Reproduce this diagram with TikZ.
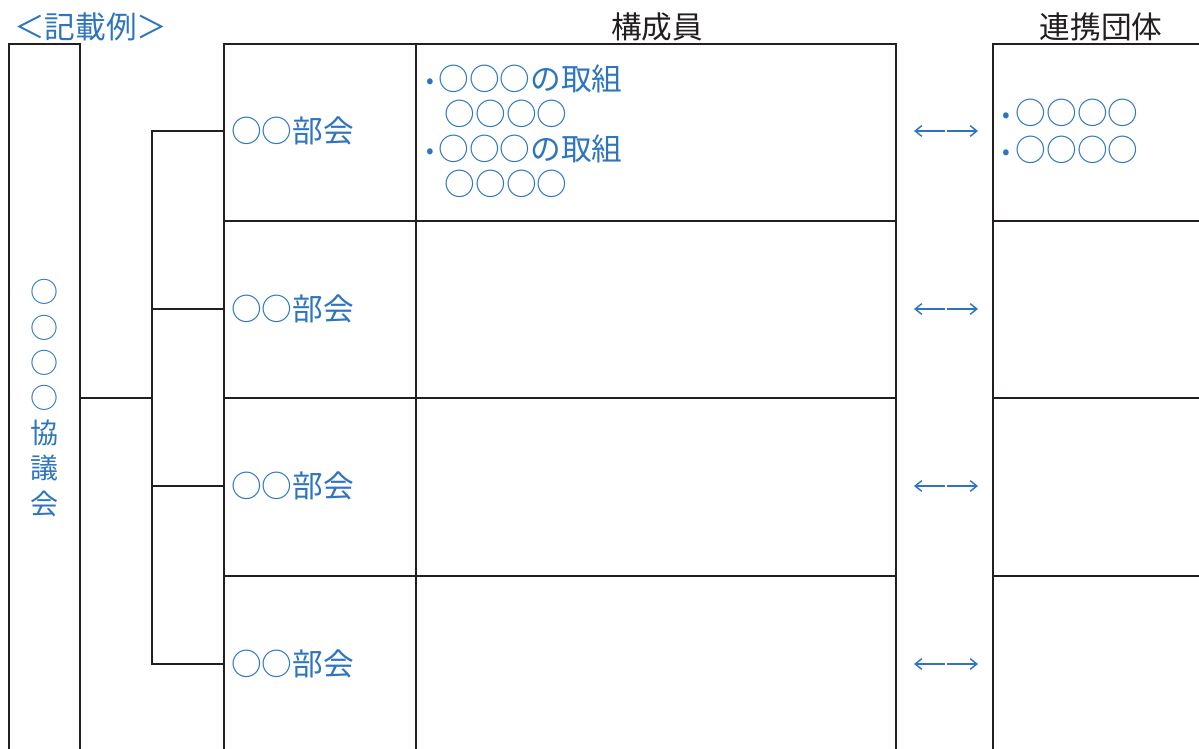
\documentclass[tikz,border=0pt]{standalone}
\usepackage{fontspec}
\setmainfont{Noto Sans CJK JP}
\usetikzlibrary{arrows.meta}
\definecolor{bluetext}{RGB}{46,117,190}
\definecolor{linegray}{RGB}{35,31,32}
\newcommand\pochi{\raisebox{1.5pt}{\fontsize{17}{17}\selectfont•}\hspace{2pt}}

\begin{document}
\begin{tikzpicture}[x=0.75pt,y=-0.75pt,
    wakusen/.style={draw=linegray,line width=2pt},
    memo/.style={text=bluetext,inner sep=0pt,font=\fontsize{23}{26.25}\selectfont},
    head/.style={text=linegray,inner sep=0pt,font=\fontsize{23}{26.25}\selectfont},
    renraku/.style={draw=bluetext,line width=1.1pt,-{Straight Barb[length=5pt,width=8pt]}}]
    \clip (0,0) rectangle (1199,749); % page size of the reference
    % headings
    \node[memo,anchor=west] (rei) at (14,27) {＜記載例＞};
    \node[head] (koseiin) at (657,27) {構成員};
    \node[head] (renkei) at (1101,27) {連携団体};
    % frames (open at the bottom)
    \draw[wakusen] (9,770) |- (80,44) -- (80,770);
    \draw[wakusen] (224,770) |- (896,44) -- (896,770);
    \draw[wakusen] (416,44) -- (416,770);
    \draw[wakusen] (993,770) |- (1220,44);
    \foreach \r in {221,398,576} {
        \draw[wakusen] (224,\r) -- (896,\r);
        \draw[wakusen] (993,\r) -- (1220,\r);
    }
    % council
    \node[memo,font=\fontsize{21}{26.4}\selectfont,align=center] (kyogi) at (44,398) {○\\○\\○\\○\\協\\議\\会};
    \coordinate (kyo) at (80,398);
    \coordinate (eda) at (152,398);
    \draw[wakusen] (kyo) -- (eda);
    % sub-committees
    \foreach \y [count=\i] in {131,309,486,664} {
        \coordinate (eda\i) at (152,\y);
        \coordinate (bu\i) at (224,\y);
        \node[memo,anchor=west] (bukai\i) at (231,\y) {○○部会};
        \coordinate (naka\i) at (946,\y);
        \coordinate (hidari\i) at (914,\y);
        \coordinate (migi\i) at (978,\y);
        \draw[renraku,shorten <=1pt] (naka\i) -- (hidari\i);
        \draw[renraku,shorten <=1pt] (naka\i) -- (migi\i);
    }
    \draw[wakusen] (bu1) -- (eda1) -- (eda4) -- (bu4);
    \draw[wakusen] (eda2) -- (bu2);
    \draw[wakusen] (eda3) -- (bu3);
    % members and partners
    \node[memo,anchor=west,align=left] (kumi) at (426,131.5) {\pochi\hspace{1.5pt}○○○の取組\\\hspace*{14pt}○○○○\\\pochi\hspace{1.5pt}○○○の取組\\\hspace*{14pt}○○○○};
    \node[memo,anchor=west,align=left,font=\fontsize{23}{27.7}\selectfont] (dantai) at (1002,131.5) {\pochi\hspace{2.5pt}○○○○\\\pochi\hspace{2.5pt}○○○○};
\end{tikzpicture}
\end{document}
